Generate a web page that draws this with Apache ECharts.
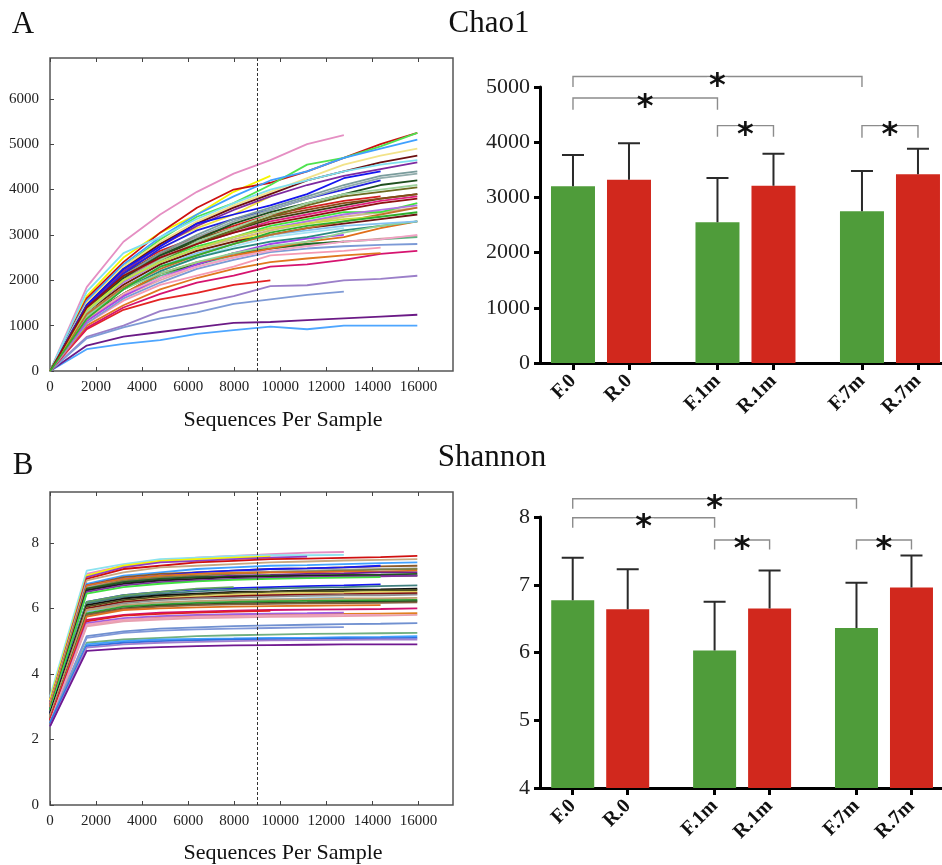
<!DOCTYPE html>
<html>
<head>
<meta charset="utf-8">
<script src="https://cdn.jsdelivr.net/npm/echarts@6/dist/echarts.min.js"></script>
<style>
  html, body { margin: 0; padding: 0; background: #fff; }
  #chart { width: 942px; height: 865px; }
</style>
</head>
<body>
<div id="chart"></div>
<script>
// rarefaction depths (sequences per sample)
const seqDepth = [0, 1595, 3190, 4785, 6380, 7975, 9570, 11165, 12760, 14355, 15950]
const depthTicks = [0, 2000, 4000, 6000, 8000, 10000, 12000, 14000, 16000]
const chao1Ticks = [0, 1000, 2000, 3000, 4000, 5000, 6000]
const shannonTicks = [0, 2, 4, 6, 8]

// Chao1 curves, one array per sample
const chao1Curves = [
  [0, 1850, 2850, 3450, 3950, 4350, 4650, 5000, 5200],
  [0, 480, 600, 680, 820, 900, 980, 920, 1000, 1000, 1000],
  [0, 560, 760, 860, 960, 1060, 1080, 1120, 1160, 1200, 1240],
  [0, 750, 1000, 1320, 1480, 1650, 1870, 1890, 2000, 2030, 2100],
  [0, 720, 960, 1160, 1290, 1480, 1580, 1680, 1750],
  [0, 920, 1350, 1580, 1720, 1900, 2000],
  [0, 950, 1400, 1700, 1950, 2100, 2300, 2350, 2450, 2580, 2650],
  [0, 1000, 1450, 1800, 2050, 2250, 2400, 2480, 2550, 2600],
  [0, 1050, 1550, 1900, 2100, 2300, 2550, 2600, 2650, 2720],
  [0, 1050, 1600, 1950, 2250, 2450, 2620, 2700, 2750, 2780, 2800],
  [0, 1100, 1650, 2000, 2300, 2500, 2700, 2780, 2850, 2920, 2980],
  [0, 1150, 1700, 2100, 2350, 2550, 2750, 2800, 2850, 2900, 2950],
  [0, 1200, 1700, 2150, 2350, 2600, 2700, 2800, 2850],
  [0, 1100, 1650, 2050, 2350, 2600, 2800, 2920, 3000],
  [0, 1250, 1800, 2200, 2500, 2750, 2950, 3050, 3150],
  [0, 1150, 1700, 2150, 2400, 2550, 2700, 2850, 2950, 3150, 3300],
  [0, 1200, 1800, 2200, 2500, 2700, 2850, 2950, 3100, 3200, 3300],
  [0, 1300, 1900, 2350, 2650, 2850, 3100, 3300, 3400],
  [0, 1300, 1900, 2350, 2650, 2850, 3000, 3150, 3250, 3350, 3450],
  [0, 1350, 2000, 2400, 2700, 2900, 3100, 3250, 3400, 3500, 3600],
  [0, 1400, 2000, 2450, 2750, 2950, 3200, 3350, 3500, 3500, 3700],
  [0, 1350, 1950, 2400, 2700, 2950, 3150, 3300, 3450, 3550, 3650],
  [0, 1400, 2050, 2500, 2800, 3050, 3300, 3450, 3600, 3750, 3850],
  [0, 1450, 2100, 2550, 2850, 3100, 3350, 3500, 3650, 3800, 3900],
  [0, 1450, 2150, 2600, 2900, 3150, 3400, 3550, 3700, 3800, 3900],
  [0, 1500, 2200, 2650, 2950, 3200, 3450, 3600, 3750, 3850],
  [0, 1550, 2300, 2800, 3150, 3450, 3850],
  [0, 1650, 2500, 3050, 3450, 3950, 4300],
  [0, 1600, 2400, 3050, 3600, 4000, 4150, 4400, 4700, 5000, 5250],
  [0, 1500, 2300, 2900, 3400, 3700, 4100, 4550, 4700, 4950, 5250],
  [0, 1550, 2350, 2950, 3450, 3850, 4200, 4400, 4700, 4900, 5100],
  [0, 1500, 2300, 2850, 3300, 3650, 3950, 4250, 4550, 4750, 4900],
  [0, 1450, 2250, 2800, 3250, 3600, 3900, 4200, 4400, 4600, 4750],
  [0, 1400, 2200, 2750, 3200, 3550, 3850, 4100, 4300, 4450, 4600],
  [0, 1450, 2250, 2750, 3250, 3450, 3650, 3900, 4250, 4400],
  [0, 1400, 2150, 2700, 3100, 3350, 3550, 3800, 4000, 4200],
  [0, 1350, 2100, 2600, 3000, 3350, 3600, 3850, 4100, 4300, 4400],
  [0, 1300, 2050, 2550, 2950, 3300, 3550, 3800, 4050, 4250, 4350],
  [0, 1350, 2050, 2550, 2900, 3250, 3500, 3700, 3900, 4100, 4200],
  [0, 1300, 2000, 2450, 2800, 3100, 3400, 3650, 3850, 3950, 4050],
  [0, 1300, 2000, 2450, 2850, 3150, 3450, 3700, 3900, 4000, 4100],
  [0, 1750, 2600, 2950, 3350, 3700, 4000, 4200, 4400, 4550, 4650],
  [0, 1200, 1800, 2150, 2400, 2600, 2750, 2850, 3050, 3200, 3300],
  [0, 1150, 1700, 2050, 2300, 2500, 2650, 2750, 2850, 2900, 3000],
  [0, 1250, 1850, 2300, 2600, 2800, 3000, 3100, 3200, 3250, 3300],
  [0, 1250, 1850, 2250, 2550, 2800, 3000, 3150, 3300, 3450, 3600],
  [0, 1350, 2000, 2400, 2700, 2950, 3150, 3250, 3350, 3400],
  [0, 1400, 2100, 2500, 2800, 3050, 3250, 3400, 3550, 3700, 3800],
  [0, 1150, 1800, 2300, 2550, 2800, 3050, 3200, 3300, 3400, 3500]
]
const chao1Colors = [
  '#e58fc3', '#4ea6ff', '#6b1a86', '#9b7fc9', '#7f9bd6', '#e32424', '#d6136f', '#e0771f',
  '#f59ab2', '#7c9ad6', '#e3a6a6', '#5fb383', '#1f6b24', '#a343f0', '#a3e3f2', '#e06f1a',
  '#2a8a80', '#f2f21f', '#6e1414', '#d4b58f', '#3fe33f', '#b173e6', '#e0207f', '#3d3d14',
  '#8b4a16', '#d11f1f', '#f0e040', '#f5f500', '#cc1010', '#4fe34f', '#3fa0ff', '#f2e38a',
  '#6b0f0f', '#7d2aa0', '#1414f0', '#2222dd', '#7a9c9c', '#92acac', '#1f4f1f', '#6b6b1f',
  '#9fd39f', '#7fe0f0', '#93d393', '#f2a3c6', '#84c2f0', '#c2702e', '#c2e342', '#8f1010',
  '#2fae2f'
]

// Shannon curves
const shannonCurves = [
  [3.2, 7.05, 7.3, 7.45, 7.55, 7.6, 7.65, 7.7, 7.72],
  [3.3, 7.15, 7.35, 7.5, 7.55, 7.6, 7.62, 7.62, 7.63],
  [3.2, 7.0, 7.3, 7.45, 7.5, 7.55, 7.58],
  [3.1, 6.95, 7.25, 7.4, 7.45, 7.5, 7.55, 7.58],
  [3.1, 6.9, 7.2, 7.3, 7.4, 7.45, 7.5, 7.52, 7.54, 7.56, 7.6],
  [3.1, 6.85, 7.1, 7.25, 7.3, 7.35, 7.4, 7.43, 7.46, 7.48, 7.5],
  [3.0, 6.75, 7.0, 7.1, 7.2, 7.25, 7.3, 7.32, 7.35, 7.38, 7.4],
  [3.0, 6.7, 6.95, 7.05, 7.1, 7.15, 7.2, 7.22, 7.25, 7.28, 7.3],
  [2.9, 6.7, 6.9, 7.0, 7.1, 7.15, 7.2, 7.22, 7.25, 7.3],
  [3.0, 6.65, 6.85, 6.95, 7.05, 7.1, 7.12, 7.15, 7.18, 7.2, 7.22],
  [2.9, 6.6, 6.85, 6.95, 7.0, 7.05, 7.1, 7.12, 7.15, 7.18, 7.2],
  [3.0, 6.7, 6.9, 7.0, 7.05, 7.08, 7.1, 7.1, 7.12, 7.12, 7.15],
  [2.9, 6.55, 6.8, 6.9, 6.95, 7.0, 7.02, 7.05, 7.07, 7.1, 7.1],
  [2.9, 6.6, 6.8, 6.9, 6.95, 6.97, 7.0, 7.0, 7.02, 7.03, 7.05],
  [2.8, 6.55, 6.75, 6.85, 6.9, 6.95, 6.97, 7.0, 7.0, 7.0, 7.0],
  [2.8, 6.5, 6.7, 6.8, 6.85, 6.9, 6.93, 6.95, 6.97, 6.98, 7.0],
  [2.9, 6.45, 6.65, 6.75, 6.82, 6.87, 6.9, 6.92, 6.94, 6.95],
  [2.8, 6.2, 6.4, 6.5, 6.58, 6.62, 6.65, 6.68, 6.7, 6.73],
  [2.8, 6.15, 6.35, 6.45, 6.52, 6.57, 6.6, 6.63, 6.65, 6.68, 6.7],
  [2.7, 6.2, 6.4, 6.5, 6.6, 6.65],
  [2.8, 6.1, 6.3, 6.4, 6.45, 6.5, 6.52, 6.55, 6.57, 6.58, 6.6],
  [2.7, 6.05, 6.25, 6.35, 6.42, 6.47, 6.5, 6.52, 6.53, 6.55, 6.56],
  [2.7, 6.0, 6.2, 6.3, 6.37, 6.42, 6.45, 6.47, 6.48, 6.5, 6.5],
  [2.7, 6.0, 6.2, 6.28, 6.33, 6.37, 6.4, 6.42, 6.43, 6.45, 6.46],
  [2.7, 5.95, 6.15, 6.25, 6.3, 6.33, 6.36, 6.38, 6.4, 6.4, 6.42],
  [2.6, 5.9, 6.1, 6.18, 6.22, 6.25, 6.27, 6.3, 6.32],
  [2.7, 5.95, 6.1, 6.18, 6.22, 6.25, 6.27, 6.28, 6.3, 6.3, 6.32],
  [2.6, 5.85, 6.05, 6.12, 6.17, 6.2, 6.22, 6.23, 6.24, 6.25, 6.26],
  [2.6, 5.8, 6.0, 6.08, 6.12, 6.15, 6.17, 6.18, 6.2, 6.2, 6.22],
  [2.6, 5.8, 5.98, 6.05, 6.1, 6.12, 6.14, 6.15, 6.16, 6.17, 6.18],
  [2.6, 5.75, 5.95, 6.0, 6.03, 6.05, 6.07, 6.08, 6.09, 6.1],
  [2.6, 5.65, 5.8, 5.87, 5.9, 5.93, 5.95, 5.96, 5.97, 5.98, 6.0],
  [2.6, 5.6, 5.78, 5.83, 5.87, 5.9, 5.92],
  [2.5, 5.5, 5.65, 5.72, 5.76, 5.78, 5.8, 5.82, 5.83, 5.84, 5.85],
  [2.5, 5.55, 5.7, 5.76, 5.8, 5.82, 5.84, 5.85, 5.87],
  [2.5, 5.5, 5.65, 5.7, 5.74, 5.76, 5.78, 5.79, 5.8, 5.8],
  [2.5, 5.45, 5.6, 5.66, 5.7, 5.72, 5.74, 5.75, 5.76, 5.78, 5.8],
  [2.5, 5.15, 5.3, 5.38, 5.42, 5.46, 5.48, 5.5, 5.52, 5.53, 5.55],
  [2.5, 5.1, 5.25, 5.32, 5.36, 5.38, 5.4, 5.42, 5.43],
  [2.5, 4.95, 5.05, 5.1, 5.15, 5.18, 5.2, 5.22, 5.23, 5.24, 5.25],
  [2.5, 4.9, 5.0, 5.05, 5.07, 5.08, 5.1, 5.1, 5.12, 5.13, 5.15],
  [2.5, 4.85, 4.95, 5.0, 5.03, 5.05, 5.06, 5.07, 5.08, 5.09, 5.1],
  [2.4, 4.8, 4.9, 4.95, 4.98, 5.0, 5.02, 5.03, 5.04, 5.05, 5.05],
  [2.4, 4.7, 4.78, 4.82, 4.85, 4.87, 4.88, 4.89, 4.9, 4.9, 4.9]
]
const shannonColors = [
  '#e58fc3', '#8ce3ef', '#f5f500', '#9040c0', '#d01010', '#c8a880', '#40a0ff', '#8b5a2b',
  '#1818f0', '#a0a0a0', '#808040', '#e07020', '#702090', '#206020', '#202020', '#8030a0',
  '#40e040', '#1818f0', '#408080', '#60a060', '#101010', '#505020', '#e0d060', '#801010',
  '#909090', '#80c0e0', '#c0a070', '#30a030', '#205020', '#806040', '#e07020', '#d01070',
  '#e02020', '#e08020', '#a060e0', '#f0a0c0', '#e8a0b0', '#7090d0', '#8098d8', '#70b080',
  '#40a0ff', '#3070e0', '#a080d0', '#701890'
]

// bar panels
const groups = ['F.0', 'R.0', 'F.1m', 'R.1m', 'F.7m', 'R.7m']
const chao1Mean = [3200, 3320, 2550, 3210, 2750, 3420]
const chao1Sd = [570, 660, 800, 580, 730, 460]
const shannonMean = [6.77, 6.64, 6.03, 6.65, 6.36, 6.96]
const shannonSd = [0.63, 0.59, 0.72, 0.56, 0.67, 0.47]
// significance brackets: [group a, group b, bracket height, leg end]
const chao1Sig = [[0, 4, 5190, 5000], [0, 2, 4800, 4590], [2, 3, 4300, 4100], [4, 5, 4300, 4080]]
const shannonSig = [[0, 4, 8.27, 8.12], [0, 2, 7.99, 7.84], [2, 3, 7.66, 7.52], [4, 5, 7.66, 7.52]]

const SERIF = '"Liberation Serif", "Times New Roman", serif'
const GREEN = '#4f9c3a'
const RED = '#d1281d'
const plain = v => String(v)

// group positions on the bar axis: pairs with a gap between them
const pos = i => i + Math.floor(i / 2) * 0.58
const groupPos = groups.map((g, i) => pos(i))
const groupName = v => {
  let best = 0
  groupPos.forEach((p, i) => { if (Math.abs(p - v) < Math.abs(groupPos[best] - v)) best = i })
  return groups[best]
}

const curveSeries = (curves, colors, xi, yi) => curves.map((c, i) => ({
  type: 'line',
  xAxisIndex: xi,
  yAxisIndex: yi,
  data: c.map((v, j) => [seqDepth[j], v]),
  showSymbol: false,
  silent: true,
  lineStyle: { width: 1.8, color: colors[i % colors.length] },
  markLine: i === 0 ? {
    silent: true,
    symbol: 'none',
    label: { show: false },
    lineStyle: { type: [3, 2], color: '#333', width: 1 },
    data: [{ xAxis: 9000 }],
  } : undefined,
}))

const barSeries = (means, sds, sig, xi, yi, width) => [
  {
    type: 'bar',
    xAxisIndex: xi,
    yAxisIndex: yi,
    barWidth: width,
    data: means.map((m, i) => ({ value: [pos(i), m], itemStyle: { color: i % 2 ? RED : GREEN } })),
  },
  {
    type: 'custom',
    xAxisIndex: xi,
    yAxisIndex: yi,
    encode: { x: 0, y: [1, 2] },
    data: means.map((m, i) => [pos(i), m, m + sds[i]]),
    renderItem: (params, api) => {
      const base = api.coord([api.value(0), api.value(1)])
      const top = api.coord([api.value(0), api.value(2)])
      return {
        type: 'polyline',
        shape: { points: [base, top, [top[0] - 11, top[1]], [top[0] + 11, top[1]]] },
        style: { stroke: '#2a2a2a', lineWidth: 2, fill: null },
      }
    },
    z: 3,
  },
  {
    type: 'custom',
    xAxisIndex: xi,
    yAxisIndex: yi,
    encode: { x: [0, 1], y: [2, 3] },
    data: sig.map(s => [pos(s[0]), pos(s[1]), s[2], s[3]]),
    renderItem: (params, api) => {
      const p1 = api.coord([api.value(0), api.value(3)])
      const p2 = api.coord([api.value(0), api.value(2)])
      const p3 = api.coord([api.value(1), api.value(2)])
      const p4 = api.coord([api.value(1), api.value(3)])
      return {
        type: 'group',
        children: [
          {
            type: 'polyline',
            shape: { points: [p1, p2, p3, p4] },
            style: { stroke: '#8c8c8c', lineWidth: 1.4, fill: null },
          },
          {
            type: 'text',
            x: (p2[0] + p3[0]) / 2,
            y: p2[1] + 10,
            style: {
              text: '*', fill: '#111', align: 'center', verticalAlign: 'middle',
              font: 'bold 32px "DejaVu Sans"', backgroundColor: '#fff', padding: [-6, 2, -8, 2],
            },
          },
        ],
      }
    },
    z: 4,
  },
]

const curveXAxis = (gi, position) => ({
  type: 'value',
  gridIndex: gi,
  position: position,
  min: 0,
  max: 17500,
  axisLine: { show: false, onZero: false },
  splitLine: { show: false },
  axisTick: { inside: true, length: 4, customValues: depthTicks, lineStyle: { color: '#444' } },
  axisLabel: {
    show: position === 'bottom', customValues: depthTicks, margin: 9, formatter: plain,
    fontFamily: SERIF, fontSize: 15, color: '#222',
  },
})
const curveYAxis = (gi, max, ticks) => ({
  type: 'value',
  gridIndex: gi,
  min: 0,
  max: max,
  axisLine: { show: false, onZero: false },
  splitLine: { show: false },
  axisTick: { inside: true, length: 4, customValues: ticks, lineStyle: { color: '#444' } },
  axisLabel: { customValues: ticks, margin: 11, formatter: plain, fontFamily: SERIF, fontSize: 15, color: '#222' },
})
const barXAxis = (gi, min, max) => ({
  type: 'value',
  gridIndex: gi,
  min: min,
  max: max,
  axisLine: { show: true, onZero: false, lineStyle: { color: '#000', width: 3 } },
  splitLine: { show: false },
  axisTick: { customValues: groupPos, length: 7, lineStyle: { color: '#000', width: 3 } },
  axisLabel: {
    customValues: groupPos, formatter: groupName, rotate: 45, margin: 15,
    fontFamily: SERIF, fontWeight: 'bold', fontSize: 20, color: '#111',
  },
})
const barYAxis = (gi, min, max, interval) => ({
  type: 'value',
  gridIndex: gi,
  min: min,
  max: max,
  interval: interval,
  axisLine: { show: true, onZero: false, lineStyle: { color: '#000', width: 3 } },
  splitLine: { show: false },
  axisTick: { show: true, length: 6, lineStyle: { color: '#000', width: 3 } },
  axisLabel: { margin: 10, formatter: plain, fontFamily: SERIF, fontSize: 22, color: '#222' },
})

const txt = (text, x, y, size) => ({
  type: 'text', x: x, y: y,
  style: { text: text, fill: '#111', align: 'center', verticalAlign: 'middle', font: size + 'px ' + SERIF },
})

const option = {
  animation: false,
  backgroundColor: '#fff',
  grid: [
    { left: 50, top: 58, width: 403, height: 313, show: true, borderColor: '#555', borderWidth: 1.5 },
    { left: 540, top: 87, width: 402, height: 276 },
    { left: 50, top: 492, width: 403, height: 313, show: true, borderColor: '#555', borderWidth: 1.5 },
    { left: 540, top: 517, width: 402, height: 271 },
  ],
  xAxis: [
    curveXAxis(0, 'bottom'),
    curveXAxis(0, 'top'),
    barXAxis(1, -0.589, 6.589),
    curveXAxis(2, 'bottom'),
    curveXAxis(2, 'top'),
    barXAxis(3, -0.595, 6.715),
  ],
  yAxis: [
    curveYAxis(0, 6900, chao1Ticks),
    barYAxis(1, 0, 5000, 1000),
    curveYAxis(2, 9.55, shannonTicks),
    barYAxis(3, 4, 8, 1),
  ],
  graphic: [
    txt('A', 23, 25, 31),
    txt('Chao1', 489, 24, 31),
    txt('Sequences Per Sample', 283, 420, 22),
    txt('B', 23, 466, 31),
    txt('Shannon', 492, 458, 31),
    txt('Sequences Per Sample', 283, 853, 22),
  ],
  series: [
    ...curveSeries(chao1Curves, chao1Colors, 0, 0),
    ...barSeries(chao1Mean, chao1Sd, chao1Sig, 2, 1, 44),
    ...curveSeries(shannonCurves, shannonColors, 3, 2),
    ...barSeries(shannonMean, shannonSd, shannonSig, 5, 3, 43),
  ],
}

const chart = echarts.init(document.getElementById('chart'), null, { renderer: 'canvas' })
chart.setOption(option)
window.onresize = function () {
  chart.resize()
}
</script>
</body>
</html>
